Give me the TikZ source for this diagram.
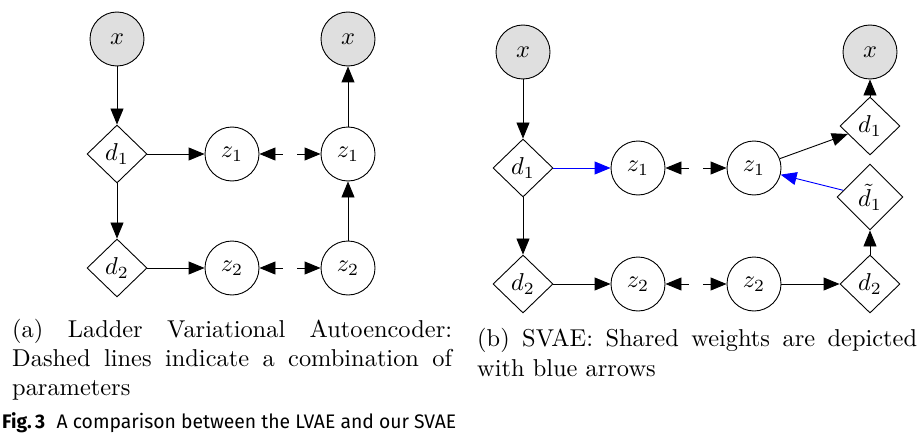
\documentclass[tikz,border=0pt]{standalone}
\usepackage{fontspec}
\newfontfamily\figfont{Fira Sans}
\usetikzlibrary{arrows.meta,shapes.geometric}
\newcommand{\lbl}[1]{\scalebox{2.44}{#1}}
\begin{document}
\begin{tikzpicture}[x=1pt,y=-1pt,
  obs/.style={circle,draw,line width=0.9pt,fill=gray!25,minimum size=54pt,inner sep=0pt},
  lat/.style={circle,draw,line width=0.9pt,minimum size=54pt,inner sep=0pt},
  det/.style={diamond,draw,line width=0.9pt,minimum width=60pt,minimum height=58pt,inner sep=0pt},
  detbig/.style={diamond,draw,line width=0.9pt,minimum width=66pt,minimum height=66pt,inner sep=0pt},
  conn/.style={line width=0.9pt,-{Triangle[length=16pt,width=13pt]}},
  shared/.style={conn,blue},
  combo/.style={line width=0.9pt,{Triangle[length=16pt,width=13pt]}-{Triangle[length=16pt,width=13pt]},dash pattern=on 8pt off 14pt},
  captext/.style={anchor=base west,inner sep=0pt}]
\useasboundingbox (0,0) rectangle (921,436);
% ---------- (a) LVAE ----------
\node[obs] (ax1) at (117,39) {\lbl{$x$}};
\node[obs] (ax2) at (348,39) {\lbl{$x$}};
\node[det] (ad1) at (117,154) {\lbl{$d_1$}};
\node[lat] (az1) at (232,154) {\lbl{$z_1$}};
\node[lat] (az1b) at (348,154) {\lbl{$z_1$}};
\node[det] (ad2) at (117,268) {\lbl{$d_2$}};
\node[lat] (az2) at (232,268) {\lbl{$z_2$}};
\node[lat] (az2b) at (348,268) {\lbl{$z_2$}};
\draw[conn] (ax1) -- (ad1);
\draw[conn] (ad1) -- (ad2);
\draw[conn] (ad1) -- (az1);
\draw[conn] (ad2) -- (az2);
\draw[combo] (az1) -- (az1b);
\draw[combo] (az2) -- (az2b);
\draw[conn] (az2b) -- (az1b);
\draw[conn] (az1b) -- (ax2);
% ---------- (b) SVAE ----------
\node[obs] (bx1) at (523,52) {\lbl{$x$}};
\node[obs] (bx2) at (870,52) {\lbl{$x$}};
\node[det] (bd1) at (523,168) {\lbl{$d_1$}};
\node[lat] (bz1) at (638,168) {\lbl{$z_1$}};
\node[lat] (bz1b) at (754,168) {\lbl{$z_1$}};
\node[det] (bd1r) at (870,126) {\lbl{$d_1$}};
\node[detbig] (bdt1) at (870,197) {\lbl{$\tilde{d}_1$}};
\node[det] (bd2) at (523,284) {\lbl{$d_2$}};
\node[lat] (bz2) at (638,284) {\lbl{$z_2$}};
\node[lat] (bz2b) at (754,284) {\lbl{$z_2$}};
\node[det] (bd2r) at (870,284) {\lbl{$d_2$}};
\draw[conn] (bx1) -- (bd1);
\draw[conn] (bd1) -- (bd2);
\draw[shared] (bd1) -- (bz1);
\draw[conn] (bd2) -- (bz2);
\draw[combo] (bz1) -- (bz1b);
\draw[combo] (bz2) -- (bz2b);
\draw[conn] (bz2b) -- (bd2r);
\draw[conn] (bd2r) -- (bdt1);
\draw[shared] (bdt1) -- (bz1b);
\draw[conn] (bz1b) -- (bd1r);
\draw[conn] (bd1r) -- (bx2);
% ---------- captions ----------
\node[captext] (capa1) at (12,337) {\lbl{\makebox[180.3pt][s]{(a) Ladder Variational Autoencoder:}}};
\node[captext] (capa2) at (12,366.3) {\lbl{\makebox[180.3pt][s]{Dashed lines indicate a combination of}}};
\node[captext] (capa3) at (12,395.6) {\lbl{parameters}};
\node[captext] (capb1) at (477,346.7) {\lbl{\makebox[180.3pt][s]{(b) SVAE: Shared weights are depicted}}};
\node[captext] (capb2) at (477,376) {\lbl{with blue arrows}};
\node[captext] (fig) at (2,428.5) {\resizebox{454pt}{\height}{\figfont\fontsize{19.6}{23}\selectfont\textbf{Fig.\,3}\hspace{0.6em}A comparison between the LVAE and our SVAE}};
\end{tikzpicture}
\end{document}
